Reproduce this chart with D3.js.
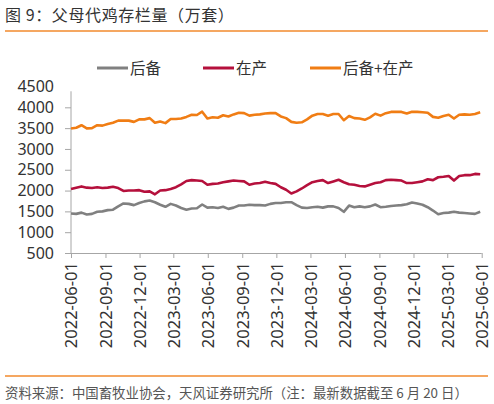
<!DOCTYPE html>
<html>
<head>
<meta charset="utf-8">
<script src="https://cdn.jsdelivr.net/npm/d3@7"></script>
<style>
  body { margin: 0; background: #fff; }
  text { font-family: "Noto Sans", "Noto Sans CJK SC", sans-serif; }
  .cjk { font-family: "Noto Sans CJK SC", "Noto Sans", sans-serif; }
</style>
</head>
<body>
<div id="canvas"></div>
<script>
// 父母代鸡存栏量（万套），双周读数，起点 2022-06-01
var startDate = '2022-06-01';
var seriesNames = ['后备', '在产', '后备+在产'];
var seriesColors = ['#808080', '#b5103c', '#f07d14'];

var reserve = [1450,1440,1470,1425,1440,1490,1500,1530,1540,1620,
  1690,1680,1650,1700,1740,1760,1720,1660,1610,1680,
  1640,1580,1540,1570,1575,1665,1590,1600,1580,1610,
  1560,1590,1640,1640,1660,1650,1650,1640,1680,1700,
  1700,1720,1720,1650,1590,1580,1600,1610,1590,1620,
  1620,1580,1490,1640,1600,1620,1600,1620,1665,1600,
  1610,1630,1640,1650,1670,1715,1690,1660,1600,1520,
  1430,1460,1470,1490,1470,1460,1450,1440,1490];

var production = [2040,2070,2100,2070,2060,2080,2060,2070,2090,2060,
  1990,2000,2000,2010,1970,1980,1910,2000,2010,2040,
  2080,2150,2230,2250,2240,2230,2140,2160,2170,2200,
  2220,2240,2230,2220,2140,2170,2180,2210,2180,2160,
  2080,2020,1930,1980,2050,2130,2200,2230,2250,2180,
  2220,2260,2200,2150,2140,2110,2100,2140,2180,2200,
  2250,2260,2250,2240,2180,2180,2200,2220,2270,2250,
  2320,2330,2350,2240,2350,2370,2370,2400,2390];

var total = [3490,3510,3570,3495,3500,3570,3560,3600,3630,3680,
  3680,3680,3650,3710,3710,3740,3630,3660,3620,3720,
  3720,3730,3770,3820,3815,3895,3730,3760,3750,3810,
  3780,3830,3870,3860,3800,3820,3830,3850,3860,3860,
  3780,3740,3650,3630,3640,3710,3800,3840,3840,3800,
  3840,3840,3690,3790,3740,3730,3700,3760,3845,3800,
  3860,3890,3890,3890,3850,3895,3890,3880,3870,3770,
  3750,3790,3820,3730,3820,3830,3820,3840,3880];

var yTicks = [500,1000,1500,2000,2500,3000,3500,4000,4500];
var xTickLabels = ['2022-06-01','2022-09-01','2022-12-01','2023-03-01','2023-06-01',
  '2023-09-01','2023-12-01','2024-03-01','2024-06-01','2024-09-01',
  '2024-12-01','2025-03-01','2025-06-01'];

var title = '图 9：父母代鸡存栏量（万套）';
var source = '资料来源：中国畜牧业协会，天风证券研究所（注：最新数据截至 6 月 20 日）';

var W = 494, H = 404;
var parse = d3.timeParse('%Y-%m-%d');
var t0 = parse(startDate);
var dates = reserve.map(function(d, i) { return d3.timeDay.offset(t0, i * 14); });

var svg = d3.select('#canvas').append('svg')
  .attr('width', W).attr('height', H);

// 标题 + 橙色分隔线
svg.append('text').attr('class', 'cjk')
  .attr('x', 5).attr('y', 21)
  .attr('font-size', 16).attr('letter-spacing', 0.6).attr('fill', '#333')
  .text(title);
svg.append('line').attr('x1', 5).attr('x2', 488).attr('y1', 31).attr('y2', 31)
  .attr('stroke', '#f28a2c').attr('stroke-width', 1.5);

var x = d3.scaleTime()
  .domain([parse(xTickLabels[0]), parse(xTickLabels[xTickLabels.length - 1])])
  .range([71, 481.7]);
var y = d3.scaleLinear().domain([500, 4500]).range([253, 86.5]);

// y 轴
var axisY = d3.axisLeft(y).tickValues(yTicks.slice(0, -1)).tickSize(6).tickFormat('');
var gy = svg.append('g').attr('transform', 'translate(71,0)').call(axisY);
gy.select('.domain').remove();
gy.append('line').attr('x1', 0).attr('x2', 0).attr('y1', y(4385)).attr('y2', y(500));
gy.selectAll('line').attr('stroke', '#a6a6a6');
svg.selectAll('.ylab').data(yTicks).enter().append('text')
  .attr('class', 'ylab')
  .attr('x', 54).attr('y', function(d) { return y(d); })
  .attr('dy', '0.35em').attr('text-anchor', 'end')
  .attr('font-size', 16).attr('fill', '#333')
  .text(function(d) { return d; });

// x 轴
var axisX = d3.axisBottom(x)
  .tickValues(xTickLabels.map(parse))
  .tickSize(5)
  .tickFormat(d3.timeFormat('%Y-%m-%d'));
var gx = svg.append('g').attr('transform', 'translate(0,253)').call(axisX);
gx.select('.domain').attr('stroke', '#a6a6a6').attr('d', 'M71,0.5H481.7');
gx.selectAll('.tick line').attr('stroke', '#a6a6a6');
gx.selectAll('.tick text')
  .attr('font-size', 16.5).attr('fill', '#333')
  .attr('transform', 'rotate(-90)')
  .attr('text-anchor', 'end')
  .attr('x', -9).attr('y', 0).attr('dy', '0.35em');

// 折线
var line = d3.line()
  .x(function(d, i) { return x(dates[i]); })
  .y(function(d) { return y(d); });
var all = [reserve, production, total];
svg.selectAll('.series').data(all).enter().append('path')
  .attr('class', 'series')
  .attr('d', line)
  .attr('fill', 'none')
  .attr('stroke', function(d, i) { return seriesColors[i]; })
  .attr('stroke-width', 2.6)
  .attr('stroke-linejoin', 'round');

// 图例
var legendX = [97, 203, 310];
var lg = svg.selectAll('.lg').data(seriesNames).enter().append('g')
  .attr('class', 'lg')
  .attr('transform', function(d, i) { return 'translate(' + legendX[i] + ',68)'; });
lg.append('line').attr('x1', 0).attr('x2', 31).attr('y1', 0).attr('y2', 0)
  .attr('stroke', function(d, i) { return seriesColors[i]; })
  .attr('stroke-width', 3);
lg.append('text').attr('class', 'cjk')
  .attr('x', 33).attr('dy', '0.36em')
  .attr('font-size', 15.5).attr('fill', '#333')
  .text(function(d) { return d; });

// 底部来源
svg.append('line').attr('x1', 5).attr('x2', 488).attr('y1', 376).attr('y2', 376)
  .attr('stroke', '#f28a2c').attr('stroke-width', 1.5);
svg.append('text').attr('class', 'cjk')
  .attr('x', 5).attr('y', 398)
  .attr('font-size', 13.4).attr('fill', '#555')
  .text(source);
</script>
</body>
</html>
